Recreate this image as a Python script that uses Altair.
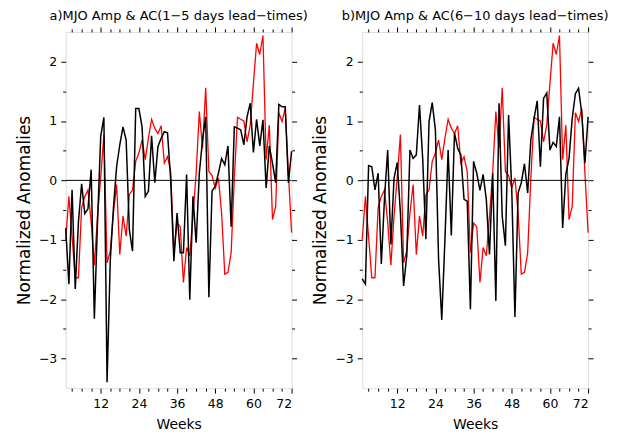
import altair as alt
import pandas as pd

weeks = list(range(1, 73))

mjo_amp = [-1.0, -0.27, -0.95, -1.64, -1.64, -0.46, -0.27, -0.16, -0.7, -1.43,
           -0.6, 0.05, 0.77, -1.39, -1.19, -0.55, -0.07, -1.25, -0.6, -0.94,
           -0.24, -0.16, 0.32, 0.46, 0.68, 0.35, 0.71, 1.03, 0.88, 0.79,
           0.92, 0.29, 0.4, 0.15, -1.22, -0.72, -0.78, -1.72, -1.13, -1.27,
           -0.6, 0.12, 1.16, 0.54, 1.56, 0.15, 0.08, -0.13, 0.04, -0.55,
           -1.58, -1.55, -1.22, 0.04, 1.06, 1.03, 1.0, 0.65, 0.93, 1.63,
           2.31, 2.12, 2.44, 0.35, 0.93, -0.66, -0.44, 1.14, 0.99, 1.21,
           0.12, -0.88]

ac_1_5 = [-0.8, -1.75, -0.16, -1.83, -0.7, -0.06, -0.56, -0.48, 0.18, -2.33,
          -0.7, 0.74, 1.06, -3.4, -1.36, -0.46, 0.23, 0.6, 0.9, 0.68,
          -0.83, -1.19, 1.21, 1.21, 0.9, -0.27, -0.18, 0.75, -0.04, 0.57,
          0.71, 0.82, 0.8, 0.01, -1.36, -0.55, -1.22, -1.22, 0.1, -2.01,
          -0.27, -1.05, 0.12, 0.68, 1.07, -1.97, -0.18, -0.1, 0.12, 0.37,
          0.26, 0.58, -0.78, 0.9, 0.88, 0.85, 0.6, 1.07, 1.3, 0.47,
          1.03, 0.58, 1.02, -0.13, 0.58, 0.29, -0.04, 1.28, 1.24, 1.24,
          -0.04, 0.49]

ac_6_10 = [-1.66, -1.75, 0.25, 0.23, -0.16, 0.12, -1.41, -0.3, 0.51, -1.08,
           0.04, 0.3, -0.55, -1.78, -1.27, 0.51, 0.37, 0.43, 1.27, 0.37,
           -0.99, 0.99, 1.31, 0.85, -1.33, -2.35, -0.99, 0.51, -0.93, 0.8,
           0.54, 0.43, -0.32, -0.35, -2.17, 0.32, 0.12, -0.17, 0.1, -0.32,
           -1.25, 0.12, -2.03, 1.3, -0.6, -1.1, 1.1, -0.16, -2.3, -0.21,
           -0.04, 0.28, -0.21, 0.68, 1.04, 1.34, 0.23, 1.38, 1.47, 0.51,
           0.64, 0.57, 1.07, -0.8, 0.1, 0.37, 1.04, 1.46, 1.55, 1.13,
           0.29, 1.07]

titles = ["a)MJO Amp & AC(1\u22125 days lead\u2212times)",
          "b)MJO Amp & AC(6\u221210 days lead\u2212times)"]

x_major = [12, 24, 36, 48, 60, 72]
x_minor = [w for w in range(3, 73, 3) if w % 12]
y_major = [-3, -2, -1, 0, 1, 2]
y_minor = [-2.5, -1.5, -0.5, 0.5, 1.5]

FONT = "DejaVu Sans"
XS = alt.Scale(domain=[1, 72], nice=False, zero=False)
YS = alt.Scale(domain=[-3.5, 2.5], nice=False, zero=False)


def axis(orient, values, size, labels=False, title=None, title_size=13.5,
         title_pad=6):
    kw = dict(orient=orient, values=values, tickSize=size, tickColor="black",
              tickWidth=1, domain=False, grid=False, labels=labels)
    if labels:
        kw.update(labelFont=FONT, labelFontSize=12.5, labelColor="black",
                  labelPadding=4)
    if title:
        kw.update(title=title, titleFont=FONT, titleFontSize=title_size,
                  titleFontWeight="normal", titleColor="black",
                  titlePadding=title_pad)
    else:
        kw.update(title=None)
    return alt.Axis(**kw)


def panel(title, ac):
    df = pd.DataFrame({"week": weeks, "amp": mjo_amp, "ac": ac})
    base = alt.Chart(df)
    red = base.mark_line(color="#ff0000", strokeWidth=1.3).encode(
        x=alt.X("week:Q", scale=XS,
                axis=axis("bottom", x_major, 5, True, "Weeks", 14, 8)),
        y=alt.Y("amp:Q", scale=YS,
                axis=axis("left", y_major, 5, True, "Normalized Anomalies",
                          17, 5)),
    )
    black = base.mark_line(color="black", strokeWidth=1.5).encode(
        x=alt.X("week:Q", scale=XS, axis=axis("bottom", x_minor, 3)),
        y=alt.Y("ac:Q", scale=YS, axis=axis("left", y_minor, 3)),
    )
    top_major = base.mark_line(opacity=0).encode(
        x=alt.X("week:Q", scale=XS, axis=axis("top", x_major, 5)),
        y=alt.Y("ac:Q", scale=YS, axis=axis("right", y_major, 5)),
    )
    top_minor = base.mark_line(opacity=0).encode(
        x=alt.X("week:Q", scale=XS, axis=axis("top", x_minor, 3)),
        y=alt.Y("ac:Q", scale=YS, axis=axis("right", y_minor, 3)),
    )
    zero = alt.Chart(pd.DataFrame({"z": [0]})).mark_rule(
        color="black", strokeWidth=1).encode(
        y=alt.Y("z:Q", scale=YS, axis=None))
    return alt.layer(red, black, top_major, top_minor, zero).resolve_axis(
        x="independent", y="independent"
    ).properties(
        width=227, height=358,
        title=alt.Title(title, font=FONT, fontSize=13, fontWeight="normal",
                        color="black", anchor="middle", offset=4),
    )


chart = alt.hconcat(panel(titles[0], ac_1_5), panel(titles[1], ac_6_10),
                    spacing=3).configure_view(
    stroke="black", strokeWidth=1.5
).configure(padding={"left": 7, "top": 0, "right": 0, "bottom": 0})

chart.save("out.html", embed_options={"renderer": "svg", "actions": False})
